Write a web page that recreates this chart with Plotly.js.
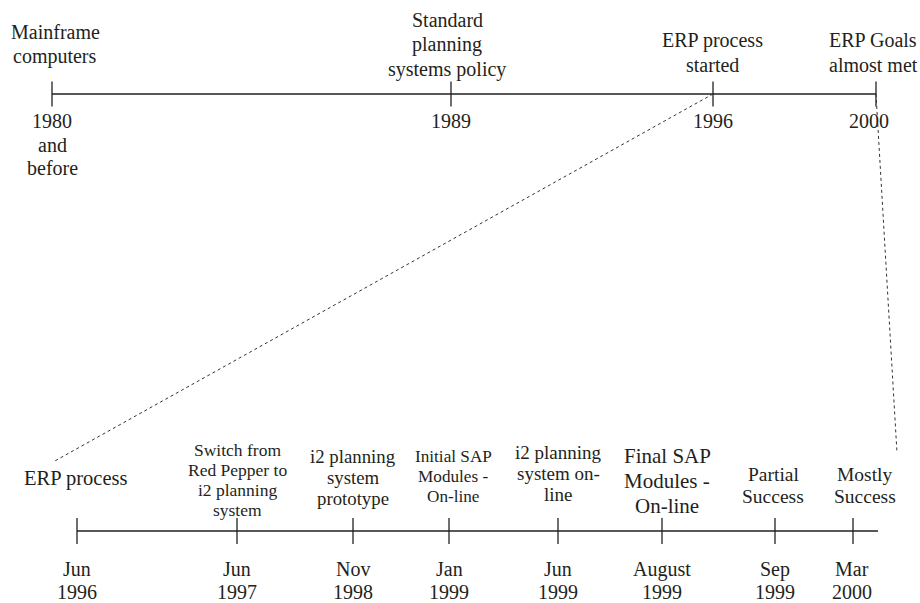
<!DOCTYPE html>
<html>
<head>
<meta charset="utf-8">
<script src="https://cdn.plot.ly/plotly-3.0.1.min.js"></script>
<style>html,body{margin:0;padding:0;background:#fff;}#chart{width:920px;height:603px;}</style>
</head>
<body>
<div id="chart"></div>
<script>
// ---- DATA ----
const topDates = ['1980<br>and<br>before', '1989', '1996', '2000'];
const topEvents = ['Mainframe<br>computers', 'Standard<br>planning<br>systems policy', 'ERP process<br>started', 'ERP Goals<br>almost met'];
const bottomDates = ['Jun<br>1996', 'Jun<br>1997', 'Nov<br>1998', 'Jan<br>1999', 'Jun<br>1999', 'August<br>1999', 'Sep<br>1999', 'Mar<br>2000'];
const bottomEvents = ['ERP process', 'Switch from<br>Red Pepper to<br>i2 planning<br>system', 'i2 planning<br>system<br>prototype', 'Initial SAP<br>Modules -<br>On-line', 'i2 planning<br>system on-<br>line', 'Final SAP<br>Modules -<br>On-line', 'Partial<br>Success', 'Mostly<br>Success'];

// ---- LAYOUT (positions / styles) ----
const topTickX = [52, 451, 713, 876];
const topLineY = 94, topTickHalf = 12.5;
const topEventX = [55, 447, 712, 873];
const topEventBase = [39, 27, 47, 47];
const topDateX = [52, 451, 713, 869];
const topDateBase = 128;
const topSize = 20, topLH = 24.5;

const botTickX = [77, 237, 353, 449, 558, 662, 775, 853];
const botLineY = 531, botTickHalf = 13, botLineEnd = 878;
const botDateX = [77, 237, 353, 449, 558, 662, 775, 852];
const botDateBase = 576, botDateLH = 22.3, botDateSize = 20;
const botEventX = [75, 237, 353, 453, 558, 667, 773, 865];
const botEventBase = [485, 456, 463, 462, 459, 463, 481, 481];
const botEventSize = [20.5, 17.5, 18.8, 17.2, 19, 21, 19.5, 19.5];
const botEventLH = [0, 20, 21, 20, 21, 25, 22, 22];

// connectors: [fromX, fromY] -> [toX, toY]
const connFrom = [[713, 94], [876, 94]];
const connTo = [[53, 462], [897, 453]];

const ink = '#231f20';
const fam = 'Liberation Serif, Times New Roman, serif';

const traces = [];
traces.push({x: [topTickX[0], topTickX[topTickX.length - 1]], y: [topLineY, topLineY], mode: 'lines',
  line: {color: ink, width: 1.3}, hoverinfo: 'skip'});
(function () {
  const xs = [], ys = [];
  topTickX.forEach(x => { xs.push(x, x, null); ys.push(topLineY - topTickHalf, topLineY + topTickHalf, null); });
  traces.push({x: xs, y: ys, mode: 'lines', line: {color: ink, width: 1.3}, hoverinfo: 'skip'});
})();
traces.push({x: [botTickX[0], botLineEnd], y: [botLineY, botLineY], mode: 'lines',
  line: {color: ink, width: 1.3}, hoverinfo: 'skip'});
(function () {
  const xs = [], ys = [];
  botTickX.forEach(x => { xs.push(x, x, null); ys.push(botLineY - botTickHalf, botLineY + botTickHalf, null); });
  traces.push({x: xs, y: ys, mode: 'lines', line: {color: ink, width: 1.3}, hoverinfo: 'skip'});
})();
connFrom.forEach((f, i) => {
  traces.push({x: [f[0], connTo[i][0]], y: [f[1], connTo[i][1]], mode: 'lines',
    line: {color: '#333', width: 1, dash: 'dot'}, hoverinfo: 'skip'});
});

const annotations = [];
function addLines(text, x, base, size, lh) {
  text.split('<br>').forEach((t, k) => {
    const b = base + k * lh;
    annotations.push({x: x, y: b - 0.3375 * size, xref: 'x', yref: 'y', text: t, showarrow: false,
      xanchor: 'center', yanchor: 'middle', font: {family: fam, size: size, color: ink}, borderpad: 0});
  });
}
topEvents.forEach((t, i) => addLines(t, topEventX[i], topEventBase[i], topSize, topLH));
topDates.forEach((t, i) => addLines(t, topDateX[i], topDateBase, topSize, 23.5));
bottomEvents.forEach((t, i) => addLines(t, botEventX[i], botEventBase[i], botEventSize[i], botEventLH[i]));
bottomDates.forEach((t, i) => addLines(t, botDateX[i], botDateBase, botDateSize, botDateLH));

const layout = {
  width: 920, height: 603,
  margin: {l: 0, r: 0, t: 0, b: 0, pad: 0},
  paper_bgcolor: '#fff', plot_bgcolor: '#fff',
  showlegend: false,
  xaxis: {range: [0, 920], visible: false, fixedrange: true},
  yaxis: {range: [603, 0], visible: false, fixedrange: true},
  annotations: annotations
};
Plotly.newPlot('chart', traces, layout, {staticPlot: true, displayModeBar: false});
</script>
</body>
</html>
